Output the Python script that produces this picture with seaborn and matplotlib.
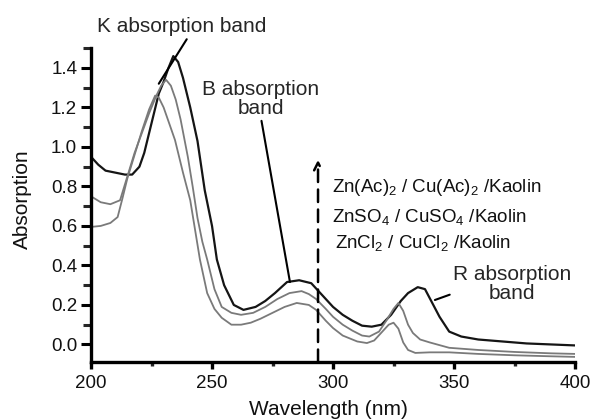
import pandas as pd
import seaborn as sns
import matplotlib.pyplot as plt
from matplotlib.ticker import MultipleLocator

# Zn(Ac)2 / Cu(Ac)2 / Kaolin (black, top curve)
wl_ac = [200, 203, 206, 210, 214, 217, 220, 222, 225, 228, 230, 232, 234, 236, 238,
         241, 244, 247, 250, 252, 255, 259, 263, 268, 272, 276, 281, 286, 291, 294,
         297, 300, 304, 308, 312, 316, 320, 324, 328, 331, 335, 338, 341, 344, 348,
         353, 360, 370, 380, 390, 400]
abs_ac = [0.95, 0.91, 0.88, 0.87, 0.86, 0.86, 0.90, 0.97, 1.12, 1.27, 1.33, 1.40, 1.46, 1.43, 1.35,
          1.20, 1.03, 0.78, 0.60, 0.43, 0.30, 0.20, 0.175, 0.19, 0.22, 0.26, 0.316, 0.325, 0.31, 0.27,
          0.23, 0.19, 0.15, 0.12, 0.095, 0.09, 0.10, 0.15, 0.22, 0.26, 0.29, 0.28, 0.21, 0.14, 0.065,
          0.04, 0.025, 0.015, 0.005, 0.0, -0.005]

# ZnSO4 / CuSO4 / Kaolin (grey, middle curve)
wl_so4 = [200, 204, 208, 212, 215, 218, 221, 224, 227, 229, 231, 233, 235, 237, 240,
          242, 244, 246, 248, 251, 254, 258, 262, 267, 272, 277, 282, 287, 290, 293,
          297, 300, 304, 308, 312, 315, 319, 322, 325, 327, 329, 331, 333, 336, 340,
          348, 360, 375, 390, 400]
abs_so4 = [0.75, 0.72, 0.71, 0.73, 0.85, 0.97, 1.07, 1.17, 1.26, 1.31, 1.34, 1.31, 1.24, 1.14, 0.95,
           0.80, 0.64, 0.52, 0.43, 0.28, 0.19, 0.16, 0.15, 0.16, 0.19, 0.23, 0.26, 0.27, 0.255, 0.23,
           0.18, 0.14, 0.10, 0.07, 0.045, 0.04, 0.065, 0.12, 0.18, 0.21, 0.17, 0.10, 0.058, 0.025, 0.01,
           -0.017, -0.028, -0.038, -0.045, -0.048]

# ZnCl2 / CuCl2 / Kaolin (grey, bottom curve)
wl_cl = [200, 204, 208, 211, 213, 215, 218, 221, 224, 226.5, 228, 230, 232, 234.7, 238,
         241, 243, 245, 248, 251, 254, 258, 262, 266, 270, 275, 280, 285, 290, 293,
         297, 300, 304, 307, 310, 314, 317, 320, 323, 325, 327, 329, 331, 334, 340,
         348, 360, 375, 390, 400]
abs_cl = [0.595, 0.60, 0.615, 0.645, 0.74, 0.84, 0.96, 1.08, 1.19, 1.26, 1.25, 1.20, 1.13, 1.035, 0.87,
          0.73, 0.58, 0.43, 0.26, 0.18, 0.135, 0.10, 0.10, 0.11, 0.13, 0.16, 0.19, 0.21, 0.20, 0.175,
          0.12, 0.083, 0.045, 0.03, 0.015, 0.007, 0.02, 0.06, 0.10, 0.11, 0.08, 0.01, -0.028, -0.043, -0.04,
          -0.04, -0.048, -0.055, -0.06, -0.063]

sample_labels = ["Zn(Ac)$_2$ / Cu(Ac)$_2$ /Kaolin",
                 "ZnSO$_4$ / CuSO$_4$ /Kaolin",
                 "ZnCl$_2$ / CuCl$_2$ /Kaolin"]

sns.set_theme(style="ticks")
plt.rcParams['font.family'] = ['Liberation Sans', 'DejaVu Sans']
plt.rcParams['mathtext.fontset'] = 'custom'
plt.rcParams['mathtext.rm'] = 'Liberation Sans'
plt.rcParams['mathtext.it'] = 'Liberation Sans:italic'

curves = [
    (wl_ac, abs_ac, "#151515", 1.6),
    (wl_so4, abs_so4, "#7a7a7a", 1.3),
    (wl_cl, abs_cl, "#7a7a7a", 1.3),
]

fig = plt.figure(figsize=(5.91, 4.19), dpi=100)
ax = fig.add_axes([0.154, 0.136, 0.819, 0.749])

for wl, ab, col, lw in curves:
    df = pd.DataFrame({"Wavelength": wl, "Absorption": ab})
    sns.lineplot(data=df, x="Wavelength", y="Absorption", ax=ax, color=col,
                 linewidth=lw, sort=False, estimator=None)

ax.set_xlim(200, 400)
ax.set_ylim(-0.089, 1.5)
ax.xaxis.set_major_locator(MultipleLocator(50))
ax.xaxis.set_minor_locator(MultipleLocator(25))
ax.yaxis.set_major_locator(MultipleLocator(0.2))
ax.yaxis.set_minor_locator(MultipleLocator(0.1))
ax.set_yticks([0.0, 0.2, 0.4, 0.6, 0.8, 1.0, 1.2, 1.4])
ax.set_yticklabels(["0.0", "0.2", "0.4", "0.6", "0.8", "1.0", "1.2", "1.4"])

sns.despine(ax=ax)
for side in ["left", "bottom"]:
    ax.spines[side].set_linewidth(2.4)
    ax.spines[side].set_color("black")
ax.tick_params(axis="y", which="major", length=7, width=2.2, labelsize=13.5, pad=3, colors="black")
ax.tick_params(axis="y", which="minor", length=6, width=2.2)
ax.tick_params(axis="x", which="major", length=5, width=2.4, labelsize=13.5, pad=4, colors="black")
ax.tick_params(axis="x", which="minor", length=3, width=2.4)
for lab in ax.get_xticklabels() + ax.get_yticklabels():
    lab.set_color("#111111")

ax.set_xlabel("Wavelength (nm)", fontsize=15, color="#111111")
ax.set_ylabel("Absorption", fontsize=15, color="#111111")
ax.xaxis.set_label_coords(0.49, -0.122)
ax.yaxis.set_label_coords(-0.122, 0.52)

# band annotations
line_kw = dict(arrowstyle="-", color="black", lw=1.5, shrinkA=0, shrinkB=0)
ax.annotate("K absorption band", xy=(228, 1.32), xytext=(237.6, 1.61),
            fontsize=15, ha="center", va="center", annotation_clip=False,
            arrowprops=dict(line_kw, relpos=(0.54, 0.0)))
ax.annotate("B absorption\nband", xy=(282.2, 0.316), xytext=(270.2, 1.243),
            fontsize=15, ha="center", va="center", linespacing=0.95,
            arrowprops=dict(line_kw, relpos=(0.5, 0.0)))
ax.annotate("R absorption\nband", xy=(342.1, 0.225), xytext=(374, 0.306),
            fontsize=15, ha="center", va="center", linespacing=0.95,
            arrowprops=dict(line_kw, relpos=(0.18, 0.45)))

# dashed arrow showing increase
ax.annotate("", xy=(293.8, 0.935), xytext=(293.8, -0.089),
            annotation_clip=False,
            arrowprops=dict(arrowstyle="->", color="black", lw=1.8,
                            linestyle=(0, (5, 3)), shrinkA=0, shrinkB=0,
                            mutation_scale=14))

for lab, yv, xv in zip(sample_labels, [0.797, 0.646, 0.514], [299.6, 299.6, 300.8]):
    ax.text(xv, yv, lab, fontsize=13.5, ha="left", va="center", color="#111111")

fig.savefig("out.png", dpi=100)
